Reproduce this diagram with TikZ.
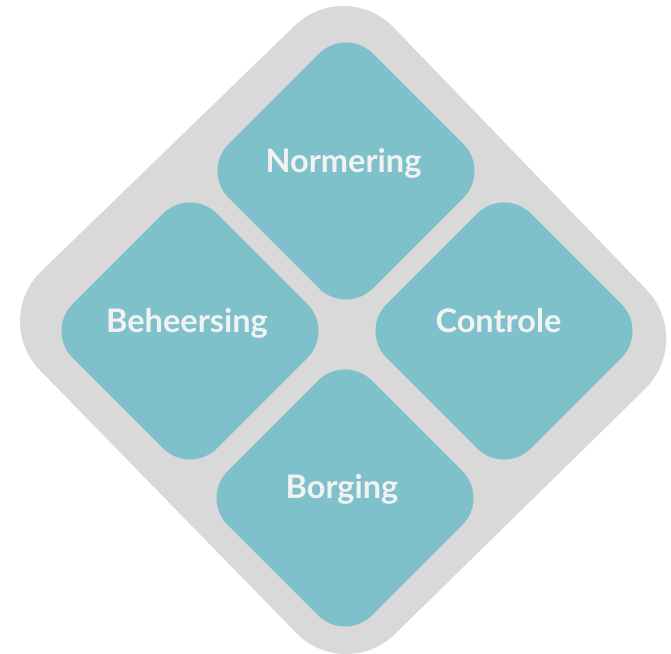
\documentclass[tikz,border=0pt]{standalone}
\usepackage{fontspec}
\setmainfont{Lato}[BoldFont={Lato Bold}]
\definecolor{framegray}{HTML}{D9D9D9}
\definecolor{tileteal}{HTML}{7FC1CA}
\definecolor{labelwhite}{HTML}{F2F2F2}

\begin{document}
\begin{tikzpicture}[x=1pt,y=1pt,
  tile/.style={rectangle, fill=tileteal, rotate=45, inner sep=0pt,
    minimum size=204pt, rounded corners=38pt},
  word/.style={anchor=base, text=labelwhite, font=\fontsize{32.5}{39}\selectfont\bfseries}]
\useasboundingbox (0,0) rectangle (671,653);


% Part A: Frame


\coordinate (fleft) at (-9,333);
\coordinate (ftop) at (345,676);
\coordinate (fright) at (695,313);
\coordinate (fbottom) at (345,-30);
\fill[framegray, rounded corners=70pt] (fleft) -- (ftop) -- (fright) -- (fbottom) -- cycle;


% Part B: Tiles


% Top, left, right, bottom
\node (normtile) [tile] at (346,482) {};
\node (beheertile) [tile] at (190,322) {};
\node (controltile) [tile] at (504,322) {};
\node (borgtile) [tile] at (345,155) {};


% Part C: Labels


\node (norm) [word] at (343.5,480) {Normering};
\node (beheer) [word] at (187,320) {Beheersing};
\node (control) [word] at (498.5,320) {Controle};
\node (borg) [word] at (342,154) {Borging};

\end{tikzpicture}
\end{document}
